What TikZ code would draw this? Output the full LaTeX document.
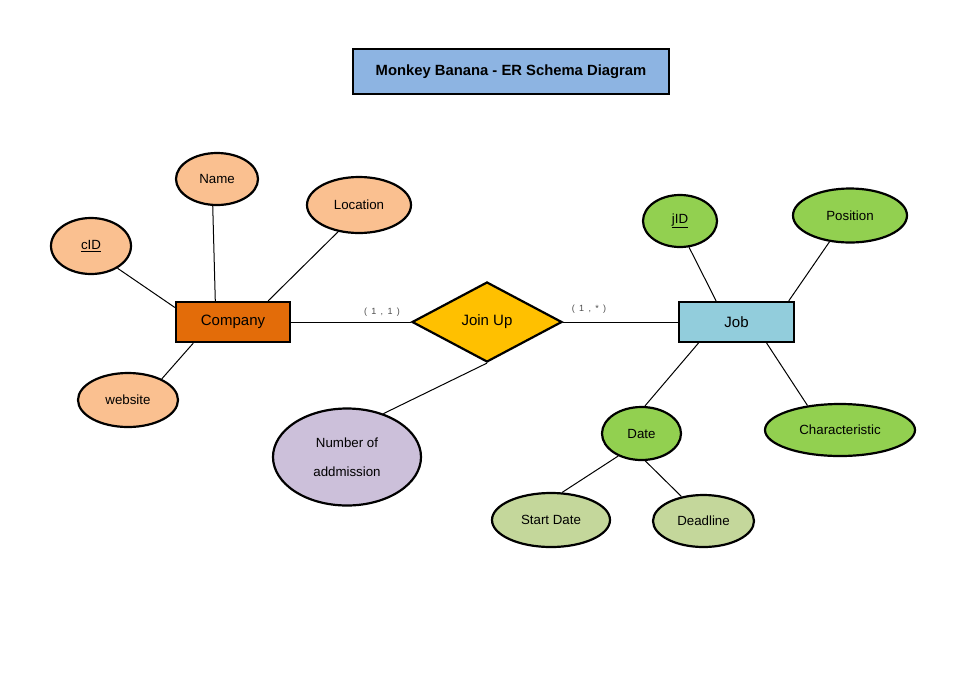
\documentclass[tikz,border=0pt]{standalone}
\usepackage{fontspec}
\setmainfont{Liberation Sans}
\usetikzlibrary{shapes.geometric}
\definecolor{titleblue}{HTML}{8DB4E2}
\definecolor{entorange}{HTML}{E36C09}
\definecolor{entblue}{HTML}{92CDDC}
\definecolor{relgold}{HTML}{FFC000}
\definecolor{attpeach}{HTML}{FAC090}
\definecolor{attgreen}{HTML}{92D050}
\definecolor{attsage}{HTML}{C4D79B}
\definecolor{attlilac}{HTML}{CCC0DA}
\newcommand{\cgap}{\hspace{4.3pt}}
\tikzset{
  entity/.style={draw=black, line width=2.2pt, rectangle, minimum width=114pt, minimum height=40pt, inner sep=0pt, font=\fontsize{15}{18}\selectfont},
  attr/.style={draw=black, line width=2.2pt, ellipse, inner sep=0pt, font=\fontsize{13.3}{16}\selectfont},
  rel/.style={draw=black, line width=2.2pt, diamond, minimum width=150pt, minimum height=80pt, inner sep=0pt, font=\fontsize{15}{18}\selectfont},
  link/.style={draw=black, line width=1pt},
  card/.style={font=\fontsize{9}{11}\selectfont, text=black!70, inner sep=0pt},
}
\begin{document}
\begin{tikzpicture}[x=1pt,y=-1pt]
\useasboundingbox (0,0) rectangle (960,678);
\fill[white] (0,0) rectangle (960,678);

% heading
\node[draw=black, line width=2pt, fill=titleblue, minimum width=316pt, minimum height=45pt, inner sep=0pt,
      font=\bfseries\fontsize{14.8}{17}\selectfont] (title) at (511,71.5) {Monkey Banana - ER Schema Diagram};

% entities and relationship
\node[entity, fill=entorange] (company) at (233,322) {Company};
\node[entity, fill=entblue, minimum width=115pt] (job) at (736.5,322) {Job};
\node[rel, fill=relgold] (joinup) at (487,322) {Join Up};

% company attributes
\node[attr, fill=attpeach, minimum width=80pt, minimum height=56pt] (cid) at (91,246) {\underline{cID}};
\node[attr, fill=attpeach, minimum width=82pt, minimum height=52pt] (name) at (217,179) {Name};
\node[attr, fill=attpeach, minimum width=104pt, minimum height=56pt] (location) at (359,205) {Location};
\node[attr, fill=attpeach, minimum width=100pt, minimum height=54pt] (website) at (128,400) {website};

% relationship attribute
\node[attr, fill=attlilac, minimum width=148pt, minimum height=97pt, align=center] (admission) at (347,457) {Number of\\[13pt]addmission};

% job attributes
\node[attr, fill=attgreen, minimum width=74pt, minimum height=52pt] (jid) at (680,221) {\underline{jID}};
\node[attr, fill=attgreen, minimum width=114pt, minimum height=54pt] (position) at (850,215.5) {Position};
\node[attr, fill=attgreen, minimum width=150pt, minimum height=52pt] (charac) at (840,430) {Characteristic};
\node[attr, fill=attgreen, minimum width=79pt, minimum height=53pt] (date) at (641.5,433.5) {Date};
\node[attr, fill=attsage, minimum width=118pt, minimum height=54pt] (start) at (551,520) {Start Date};
\node[attr, fill=attsage, minimum width=101pt, minimum height=52pt] (deadline) at (703.5,521) {Deadline};

% connectors
\draw[link] (cid.-40) -- (company.166);
\draw[link] (name.-99) -- (company.130);
\draw[link] (location.-128) -- (company.31);
\draw[link] (website.32) -- (company.-152);
\draw[link] (company.east) -- (joinup.west);
\draw[link] (joinup.east) -- (job.west);
\draw[link] (joinup.south) -- (admission.50);
\draw[link] (jid.-71) -- (job.134);
\draw[link] (position.-128) -- (job.22.6);
\draw[link] (job.-35.5) -- (charac.143);
\draw[link] (job.-151) -- (date.83);
\draw[link] (date.-136) -- (start.68);
\draw[link] (date.-82) -- (deadline.132);

% cardinalities
\node[card] (c1) at (382,312) {(\cgap1\cgap,\cgap1\cgap)};
\node[card] (c2) at (589,309) {(\cgap1\cgap,\cgap*\cgap)};
\end{tikzpicture}
\end{document}
